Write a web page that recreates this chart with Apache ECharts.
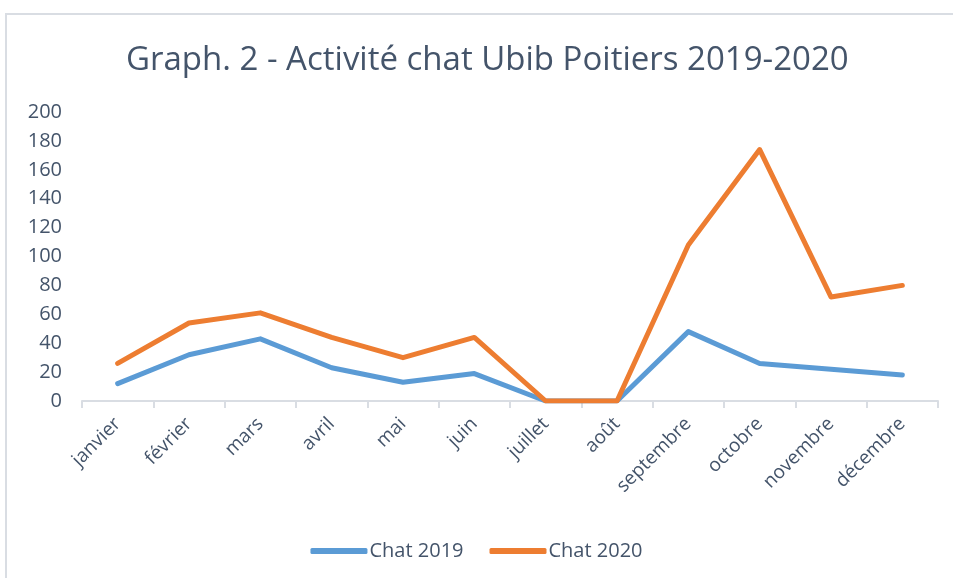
<!DOCTYPE html>
<html>
<head>
  <meta charset="utf-8">
  <title>Activité chat Ubib Poitiers</title>
  <style>
    body { margin: 0; background: #fff; }
    .frame {
      position: absolute; left: 5px; top: 13px; width: 960px; height: 580px;
      border-left: 2px solid #d9dde3; border-top: 2px solid #d9dde3;
    }
    #chart { position: absolute; left: 0; top: 0; width: 953px; height: 578px; }
  </style>
</head>
<body>
  <div class="frame"></div>
  <div id="chart"></div>
  <script src="https://cdn.jsdelivr.net/npm/echarts@6/dist/echarts.min.js"></script>
  <script>
    const months = ['janvier', 'février', 'mars', 'avril', 'mai', 'juin', 'juillet', 'août',
      'septembre', 'octobre', 'novembre', 'décembre']
    const chat2019 = [12, 32, 43, 23, 13, 19, 0, 0, 48, 26, 22, 18]
    const chat2020 = [26, 54, 61, 44, 30, 44, 0, 0, 108, 174, 72, 80]

    let textColor = '#44546A'
    let font = 'Open Sans'

    let chart = echarts.init(document.getElementById('chart'))
    let option = {
      animation: false,
      title: {
        text: 'Graph. 2 - Activité chat Ubib Poitiers 2019-2020',
        left: 121,
        top: 39,
        textStyle: { color: textColor, fontFamily: font, fontWeight: 'normal', fontSize: 33 },
      },
      legend: {
        bottom: 12,
        left: 'center',
        itemWidth: 57,
        itemHeight: 6,
        itemGap: 26,
        icon: 'roundRect',
        textStyle: { color: textColor, fontFamily: font, fontSize: 20, padding: [0, 0, 0, -3] },
        data: ['Chat 2019', 'Chat 2020'],
      },
      grid: { left: 82, right: 15, top: 112, bottom: 177 },
      xAxis: {
        type: 'category',
        data: months,
        boundaryGap: true,
        axisLine: { lineStyle: { color: '#d9dde3', width: 2 } },
        axisTick: { show: true, length: 7, lineStyle: { color: '#d9dde3', width: 2 } },
        axisLabel: {
          rotate: 45, color: textColor, fontFamily: font, fontSize: 19, margin: 20, interval: 0,
        },
      },
      yAxis: {
        type: 'value',
        min: 0,
        max: 200,
        interval: 20,
        axisLine: { show: false },
        axisTick: { show: false },
        splitLine: { show: false },
        axisLabel: { color: textColor, fontFamily: font, fontSize: 20, margin: 20 },
      },
      series: [
        {
          name: 'Chat 2019',
          type: 'line',
          data: chat2019,
          symbol: 'none',
          color: '#5B9BD5',
          lineStyle: { width: 5, color: '#5B9BD5', cap: 'round', join: 'round' },
        },
        {
          name: 'Chat 2020',
          type: 'line',
          data: chat2020,
          symbol: 'none',
          color: '#ED7D31',
          lineStyle: { width: 5, color: '#ED7D31', cap: 'round', join: 'round' },
        },
      ],
    }
    chart.setOption(option)
  </script>
</body>
</html>
